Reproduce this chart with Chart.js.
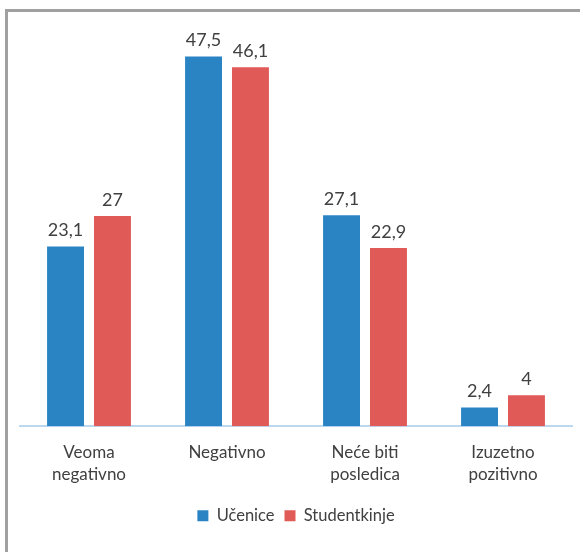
<!DOCTYPE html>
<html>
<head>
<meta charset="utf-8">
<script src="https://cdn.jsdelivr.net/npm/chart.js@4/dist/chart.umd.min.js"></script>
<style>
  html, body { margin: 0; padding: 0; background: #fff; }
  #wrap { position: relative; width: 580px; height: 552px; overflow: hidden; }
  #frame { position: absolute; left: 5px; top: 9px; width: 700px; height: 700px;
           border-top: 3px solid #a0a0a0; border-left: 3px solid #a0a0a0; box-sizing: border-box; }
  canvas { position: absolute; left: 0; top: 0; }
</style>
</head>
<body>
<div id="wrap">
  <div id="frame"></div>
  <canvas id="c" width="580" height="552"></canvas>
</div>
<script>
const categories = [["Veoma", "negativno"], ["Negativno"], ["Neće biti", "posledica"], ["Izuzetno", "pozitivno"]];
const seriesNames = ["Učenice", "Studentkinje"];
const ucenice = [23.1, 47.5, 27.1, 2.4];
const studentkinje = [27, 46.1, 22.9, 4];

const FONT = "Lato, 'Open Sans', sans-serif";
const TEXT = "#404040";

const dataLabels = {
  id: 'dataLabels',
  afterDatasetsDraw(chart) {
    const ctx = chart.ctx;
    ctx.save();
    ctx.font = "18px " + FONT;
    ctx.fillStyle = TEXT;
    ctx.textAlign = 'center';
    ctx.textBaseline = 'bottom';
    chart.data.datasets.forEach((ds, i) => {
      chart.getDatasetMeta(i).data.forEach((bar, j) => {
        const v = ds.data[j];
        ctx.fillText(String(v).replace('.', ','), bar.x, bar.y - 7);
      });
    });
    ctx.restore();
  }
};

new Chart(document.getElementById('c'), {
  type: 'bar',
  data: {
    labels: categories,
    datasets: [
      { label: seriesNames[0], data: ucenice, backgroundColor: '#2a84c4' },
      { label: seriesNames[1], data: studentkinje, backgroundColor: '#e05a57' }
    ]
  },
  options: {
    responsive: false,
    animation: false,
    devicePixelRatio: 1,
    layout: { padding: { left: 20, right: 8, top: 37, bottom: 18 } },
    datasets: { bar: { categoryPercentage: 0.68, barPercentage: 0.787 } },
    scales: {
      x: {
        grid: { display: false, drawTicks: false },
        border: { display: true, color: '#bdd7ee', width: 2 },
        ticks: { color: TEXT, font: { family: FONT, size: 17, lineHeight: 1.3 }, padding: 15, maxRotation: 0 },
        afterFit(scale) { scale.height -= 3; }
      },
      y: {
        display: false,
        min: 0, max: 50
      }
    },
    plugins: {
      legend: {
        position: 'bottom',
        labels: { color: TEXT, font: { family: FONT, size: 16.5 }, boxWidth: 11, boxHeight: 11, padding: 10 }
      },
      tooltip: { enabled: false }
    }
  },
  plugins: [dataLabels]
});
</script>
</body>
</html>
